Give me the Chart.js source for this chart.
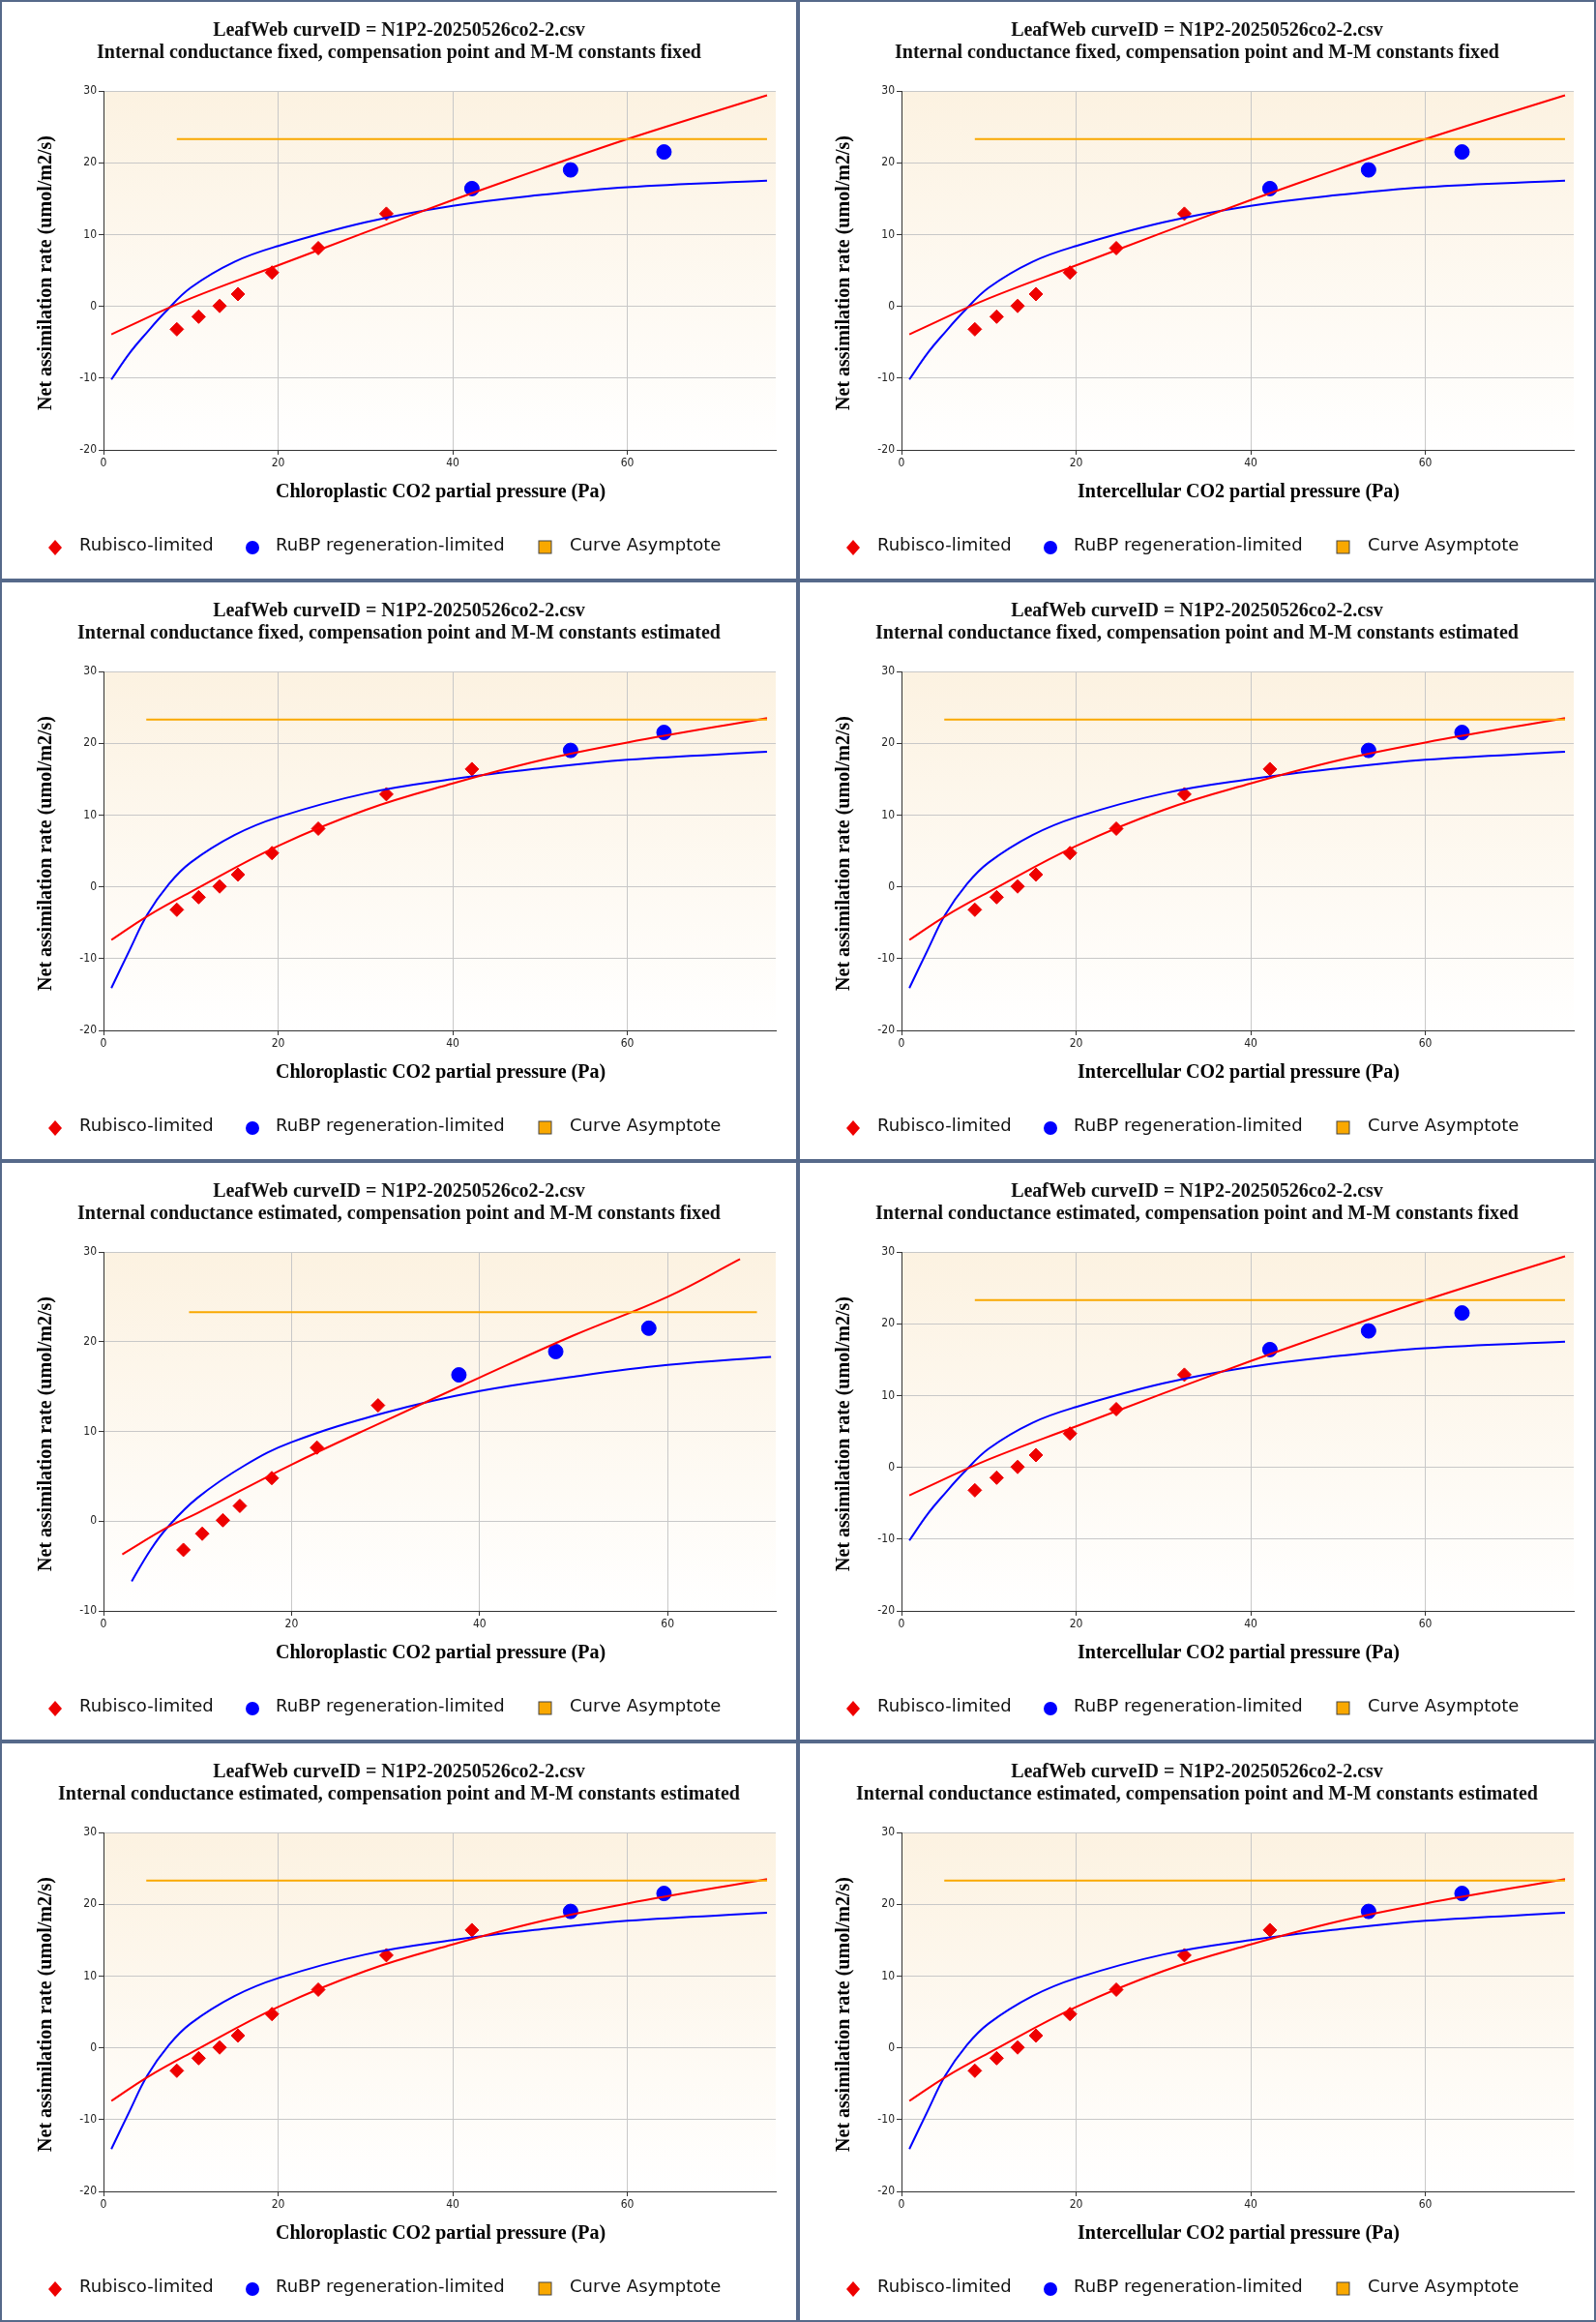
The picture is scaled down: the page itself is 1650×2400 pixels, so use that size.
<!DOCTYPE html>
<html><head><meta charset="utf-8">
<script src="https://cdn.jsdelivr.net/npm/chart.js@4.4.0/dist/chart.umd.min.js"></script>
<style>
body{margin:0;background:#fff;width:1650px;height:2400px;position:relative;overflow:hidden}
.panel{position:absolute;width:821px;height:596px;border:2px solid #56698a;background:#fff}
.panel canvas{position:absolute;left:0;top:0}
.t{position:absolute;left:0;width:821px;text-align:center;font:bold 20px "Liberation Serif",serif;color:#111;white-space:nowrap}
.xl{position:absolute;left:107px;width:693px;top:494px;text-align:center;font:bold 20px "Liberation Serif",serif}
.yl{position:absolute;left:44px;top:280px;transform:translate(-50%,-50%) rotate(-90deg);font:bold 20px "Liberation Serif",serif;white-space:nowrap}
.lg{position:absolute;top:550px;font:18px "DejaVu Sans",sans-serif;color:#111;white-space:nowrap}
.mk{position:absolute;top:556px}
</style></head><body>
<script>
// measured points
const rubX = [8.4, 10.9, 13.3, 15.4, 19.3, 24.6, 32.4];
const rubY = [-3.2, -1.45, 0.05, 1.7, 4.7, 8.1, 12.9];
const rubpX = [42.2, 53.5, 64.2];
const rubpY = [16.4, 19.0, 21.5];
// "compensation point estimated" fits move the 42.2 point into Rubisco
const rubXB = [8.4, 10.9, 13.3, 15.4, 19.3, 24.6, 32.4, 42.2];
const rubYB = [-3.2, -1.45, 0.05, 1.7, 4.7, 8.1, 12.9, 16.4];
const rubpXB = [53.5, 64.2];
const rubpYB = [19.0, 21.5];
// internal conductance estimated -> chloroplastic pressures shift
const rubXC = [8.5, 10.5, 12.7, 14.5, 17.9, 22.7, 29.2];
const rubYC = [-3.2, -1.4, 0.1, 1.7, 4.8, 8.2, 12.9];
const rubpXC = [37.8, 48.1, 58.0];
const rubpYC = [16.3, 18.9, 21.5];

const asym = 23.3;

// fitted curves
const redXA = [0.9, 10, 20, 30, 40, 50, 60, 76];
const redYA = [-3.9, 1.1, 5.7, 10.3, 14.8, 19.1, 23.3, 29.4];
const blueXA = [0.9, 3, 5, 7, 10, 15, 20, 30, 40, 50, 60, 76];
const blueYA = [-10.2, -6.5, -3.6, -0.9, 2.6, 6.2, 8.4, 11.7, 14.0, 15.5, 16.6, 17.5];

const redXB = [0.9, 5, 10, 20, 30, 40, 50, 60, 76];
const redYB = [-7.4, -4.1, -0.7, 5.7, 10.7, 14.4, 17.6, 20.1, 23.5];
const blueXB = [0.9, 3, 5, 7.5, 10, 15, 20, 30, 40, 50, 60, 76];
const blueYB = [-14.1, -8.8, -3.9, 0.4, 3.4, 7.2, 9.7, 13.0, 15.0, 16.5, 17.7, 18.8];

const redXC = [2.0, 6.8, 10, 20, 30, 40, 50, 60, 67.7];
const redYC = [-3.7, -0.7, 0.9, 6.3, 11.2, 16.0, 20.7, 25.0, 29.2];
const blueXC = [3.0, 5, 6.8, 10, 15, 20, 30, 40, 50, 60, 71];
const blueYC = [-6.7, -3.2, -0.7, 2.6, 6.2, 8.8, 12.1, 14.5, 16.1, 17.4, 18.3];

const titleTop = "LeafWeb curveID = N1P2-20250526co2-2.csv";
const sub = [
  "Internal conductance fixed, compensation point and M-M constants fixed",
  "Internal conductance fixed, compensation point and M-M constants estimated",
  "Internal conductance estimated, compensation point and M-M constants fixed",
  "Internal conductance estimated, compensation point and M-M constants estimated"
];

const zip = (xs, ys) => xs.map((x, i) => ({x, y: ys[i]}));
const sets = {
  A: {rx: rubX, ry: rubY, px: rubpX, py: rubpY, lx: redXA, ly: redYA, bx: blueXA, by: blueYA, as: [8.4, 76], xmax: 77, ymin: -20},
  B: {rx: rubXB, ry: rubYB, px: rubpXB, py: rubpYB, lx: redXB, ly: redYB, bx: blueXB, by: blueYB, as: [4.9, 76], xmax: 77, ymin: -20},
  C: {rx: rubXC, ry: rubYC, px: rubpXC, py: rubpYC, lx: redXC, ly: redYC, bx: blueXC, by: blueYC, as: [9.1, 69.5], xmax: 71.5, ymin: -10}
};
const panels = [
  ['A', 0, 'Chloroplastic'], ['A', 0, 'Intercellular'],
  ['B', 1, 'Chloroplastic'], ['B', 1, 'Intercellular'],
  ['C', 2, 'Chloroplastic'], ['A', 2, 'Intercellular'],
  ['B', 3, 'Chloroplastic'], ['B', 3, 'Intercellular']
];

const bgPlugin = {
  id: 'bg',
  beforeDraw(c) {
    const a = c.chartArea, ctx = c.ctx;
    const g = ctx.createLinearGradient(0, a.top, 0, a.bottom);
    g.addColorStop(0, '#fcf2e1'); g.addColorStop(1, '#ffffff');
    ctx.fillStyle = g; ctx.fillRect(a.left, a.top, a.right - a.left, a.bottom - a.top);
  }
};

panels.forEach((p, i) => {
  const s = sets[p[0]];
  const div = document.createElement('div');
  div.className = 'panel';
  div.style.left = (i % 2) * 825 + 'px';
  div.style.top = Math.floor(i / 2) * 600 + 'px';
  div.innerHTML =
    `<canvas width="821" height="596"></canvas>
     <div class="t" style="top:17px">${titleTop}</div>
     <div class="t" style="top:40px">${sub[p[1]]}</div>
     <div class="xl">${p[2]} CO2 partial pressure (Pa)</div>
     <div class="yl">Net assimilation rate (umol/m2/s)</div>
     <svg class="mk" style="left:47px" width="16" height="16"><path d="M8 0 L15 8 L8 16 L1 8Z" fill="#e00"/></svg>
     <div class="lg" style="left:80px">Rubisco-limited</div>
     <svg class="mk" style="left:251px" width="16" height="16"><circle cx="8" cy="8" r="7" fill="#00f"/></svg>
     <div class="lg" style="left:283px">RuBP regeneration-limited</div>
     <svg class="mk" style="left:554px" width="16" height="16"><rect x="1" y="1" width="13" height="13" fill="#f9a800" stroke="#444" stroke-width="1"/></svg>
     <div class="lg" style="left:587px">Curve Asymptote</div>`;
  document.body.appendChild(div);
  const cv = div.querySelector('canvas');
  new Chart(cv, {
    type: 'scatter',
    data: {
      datasets: [
        {data: zip(s.as, [asym, asym]), type: 'line', borderColor: '#f9a800', borderWidth: 2, pointRadius: 0},
        {data: zip(s.lx, s.ly), type: 'line', borderColor: '#f00', borderWidth: 2, pointRadius: 0, tension: 0.4},
        {data: zip(s.bx, s.by), type: 'line', borderColor: '#00f', borderWidth: 2, pointRadius: 0, tension: 0.4},
        {data: zip(s.rx, s.ry), pointStyle: 'rectRot', pointRadius: 7, backgroundColor: '#e00', borderColor: '#e00'},
        {data: zip(s.px, s.py), pointStyle: 'circle', pointRadius: 7.5, backgroundColor: '#00f', borderColor: '#00f'}
      ]
    },
    options: {
      responsive: false, animation: false, devicePixelRatio: 1,
      layout: {padding: {top: 92, right: 21, left: 0, bottom: 0}},
      plugins: {legend: {display: false}, tooltip: {enabled: false}},
      scales: {
        x: {type: 'linear', min: 0, max: s.xmax,
            afterFit(sc) { sc.height = 133; },
            afterBuildTicks(sc) { sc.ticks = [0, 20, 40, 60].map(v => ({value: v})); },
            grid: {color: '#c8c8c8', tickLength: 5, tickColor: '#333'},
            border: {color: '#333'},
            ticks: {color: '#222', font: {family: 'DejaVu Sans Condensed', size: 12}, padding: 2, maxRotation: 0}},
        y: {min: s.ymin, max: 30,
            afterFit(sc) { sc.width = 105; },
            ticks: {stepSize: 10, color: '#222', font: {family: 'DejaVu Sans Condensed', size: 12}, padding: 2},
            grid: {color: '#c8c8c8', tickLength: 5, tickColor: '#333'},
            border: {color: '#333'}}
      }
    },
    plugins: [bgPlugin]
  });
});
</script>
</body></html>
